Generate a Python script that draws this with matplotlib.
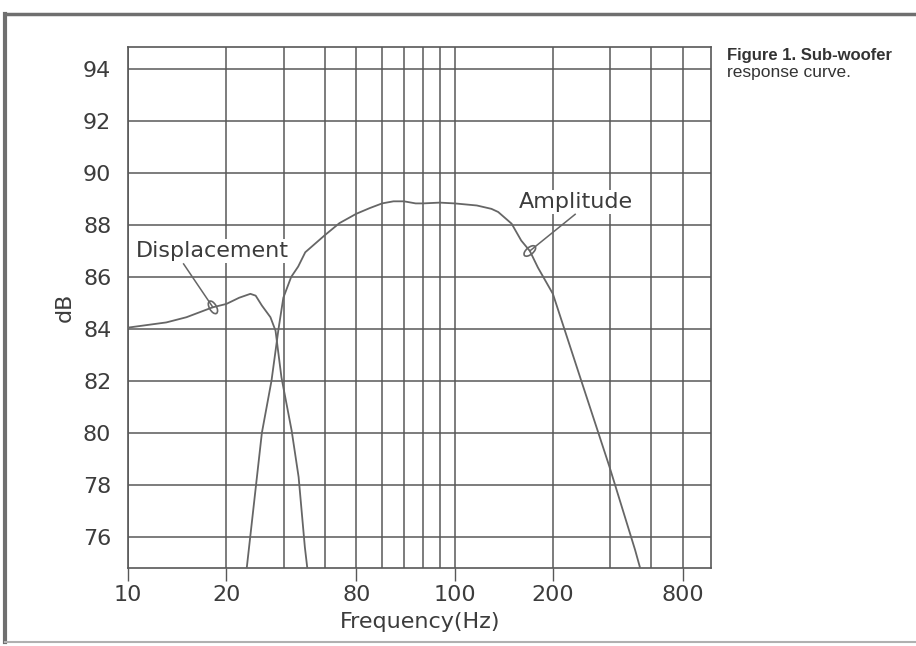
import numpy as np
import matplotlib
matplotlib.use("Agg")
import matplotlib.pyplot as plt
from matplotlib.patches import Ellipse
from matplotlib.lines import Line2D
from matplotlib.transforms import ScaledTranslation

# ---- data ----
disp_freq = [10, 13.1, 15.1, 18.15, 20, 21.9, 23.7, 24.6, 25.7, 27.3, 28.3, 29.5, 31.7, 33.3, 34.8, 35.4]
disp_db   = [84.05, 84.25, 84.45, 84.83, 84.96, 85.2, 85.35, 85.28, 84.9, 84.45, 83.93, 82.14, 80.09, 78.3, 75.6, 74.8]

amp_freq = [23.1, 25.7, 27.5, 28.9, 29.9, 31.6, 33.2, 34.9, 40, 44.4, 50, 55, 60, 65, 70, 76, 80, 90,
            100, 117, 129.7, 136, 149.5, 160, 170, 180, 200, 245, 298, 357, 370]
amp_db   = [74.8, 80.0, 82.0, 84.0, 85.2, 86.0, 86.4, 86.95, 87.6, 88.07, 88.43, 88.65, 88.83, 88.91, 88.91,
            88.83, 88.83, 88.86, 88.83, 88.75, 88.62, 88.5, 88.05, 87.4, 87.0, 86.36, 85.35, 81.96, 78.7, 75.5, 74.8]

xtick_pos = [10, 20, 50, 100, 200, 500]
xtick_labels = ["10", "20", "80", "100", "200", "800"]
xgrid_minor = [30, 40, 60, 70, 80, 90, 300, 400]
yticks = [76, 78, 80, 82, 84, 86, 88, 90, 92, 94]

# annotation anchors: curve point, leader end, text baseline position
disp_note = dict(text="Displacement", point=(18.2, 84.83), leader=(14.8, 86.5), label=(18.1, 86.75), angle=120)
amp_note = dict(text="Amplitude", point=(170, 87.0), leader=(234, 88.41), label=(236, 88.66), angle=40)

caption1 = "Figure 1. Sub-woofer"
caption2 = "response curve."

# ---- figure ----
W, H = 916, 646
fig = plt.figure(figsize=(W / 100, H / 100), dpi=100)
ax = fig.add_axes([128 / W, 1 - 568 / H, (711.5 - 128) / W, (568 - 46.7) / H])

grid_c = "#585858"
curve_c = "#666666"
text_c = "#3c3c3c"
FS = 16

ax.set_xscale("log")
ax.set_xlim(10, 612)
ax.set_ylim(74.8, 94.86)

ax.plot(disp_freq, disp_db, color=curve_c, lw=1.3, solid_capstyle="round", zorder=3)
ax.plot(amp_freq, amp_db, color=curve_c, lw=1.3, solid_capstyle="round", zorder=3)

ax.set_xticks(xtick_pos)
ax.set_xticklabels(xtick_labels)
ax.set_xticks(xgrid_minor, minor=True)
ax.xaxis.set_minor_formatter(plt.NullFormatter())
ax.set_yticks(yticks)
ax.set_yticklabels([str(v) for v in yticks])

ax.tick_params(axis="x", which="major", direction="out", length=9, width=1.0,
               color=grid_c, labelsize=FS, labelcolor=text_c, pad=3)
ax.tick_params(axis="x", which="minor", length=0)
ax.tick_params(axis="y", length=0, labelsize=FS, labelcolor=text_c, pad=12)

ax.grid(True, which="both", axis="x", color=grid_c, lw=1.1)
ax.grid(True, which="major", axis="y", color=grid_c, lw=1.1)
ax.set_axisbelow(True)
for s in ax.spines.values():
    s.set_color(grid_c)
    s.set_linewidth(1.2)

ax.set_xlabel("Frequency(Hz)", fontsize=FS, color=text_c, labelpad=5)
ax.set_ylabel("dB", fontsize=FS, color=text_c, labelpad=6)

# annotations
for note in (disp_note, amp_note):
    px, py = note["point"]
    e = Ellipse((0, 0), 0.14, 0.07, angle=note["angle"], fill=False, edgecolor=curve_c, lw=1.2,
                transform=fig.dpi_scale_trans + ScaledTranslation(px, py, ax.transData), zorder=3)
    ax.add_patch(e)
    lx, ly = note["leader"]
    ax.plot([px, lx], [py, ly], color=curve_c, lw=1.1, zorder=3)
    tx, ty = note["label"]
    ax.text(tx, ty, note["text"], ha="center", va="baseline", fontsize=FS, color=text_c, zorder=2,
            bbox=dict(facecolor="white", edgecolor="none", pad=1.5))

# caption
fig.text(727 / W, 1 - 60 / H, caption1, fontsize=12, fontweight="bold", color="#333333",
         family="Liberation Sans", ha="left", va="baseline")
fig.text(727 / W, 1 - 77 / H, caption2, fontsize=12.5, color="#333333",
         family="Liberation Sans", ha="left", va="baseline")

# outer page frame
fig.add_artist(Line2D([5 / W, 1.0], [1 - 14 / H, 1 - 14 / H], transform=fig.transFigure, color="#6f6f6f", lw=2.5))
fig.add_artist(Line2D([5 / W, 5 / W], [1 - 14 / H, 1 - 642 / H], transform=fig.transFigure, color="#6f6f6f", lw=3))
fig.add_artist(Line2D([5 / W, 1.0], [1 - 642 / H, 1 - 642 / H], transform=fig.transFigure, color="#b0b0b0", lw=1.5))

fig.savefig("out.png", dpi=100, facecolor="white")
